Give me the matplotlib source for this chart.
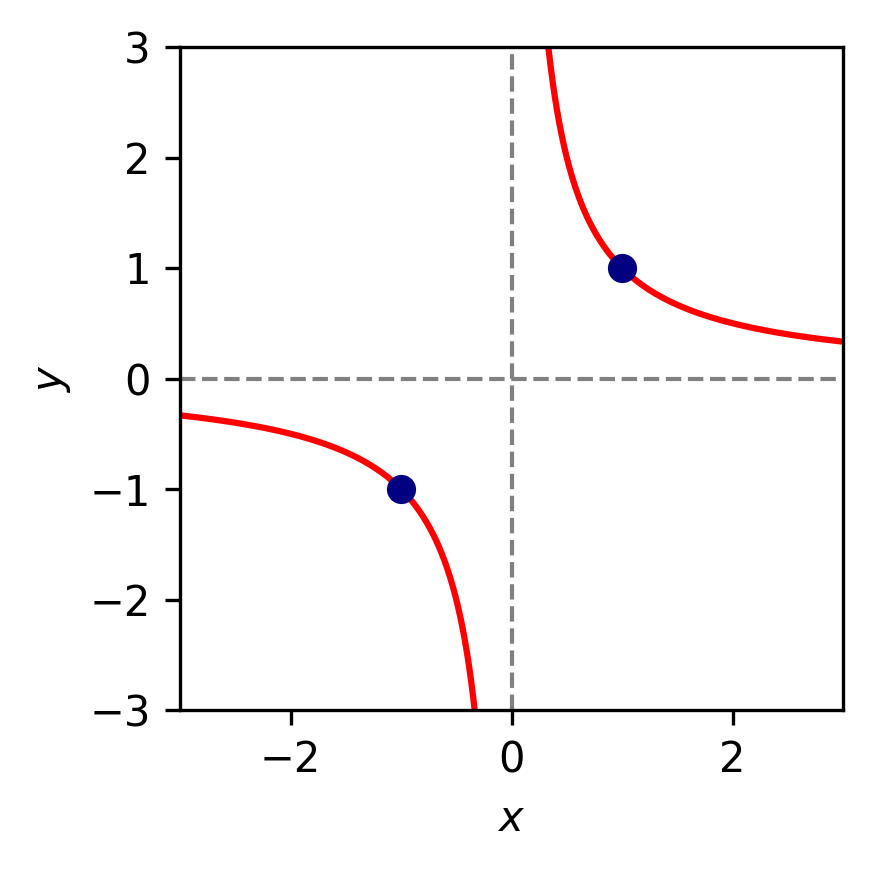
import numpy as np
import matplotlib
matplotlib.use("Agg")
import matplotlib.pyplot as plt

# y = 1/x, dos ramas
x_izq = np.linspace(-3, -1 / 3, 400)
x_der = np.linspace(1 / 3, 3, 400)
puntos_x = [1, -1]
puntos_y = [1, -1]

fig = plt.figure(figsize=(872 / 300, 870 / 300), dpi=300)
ax = fig.add_axes([180 / 872, 1 - 710 / 870, 663 / 872, 663 / 870])

ax.axhline(0, color="gray", linestyle="--", linewidth=1)
ax.axvline(0, color="gray", linestyle="--", linewidth=1)
ax.plot(x_izq, 1 / x_izq, color="red")
ax.plot(x_der, 1 / x_der, color="red")
ax.plot(puntos_x, puntos_y, "o", color="navy")

ax.set_xlim(-3, 3)
ax.set_ylim(-3, 3)
ax.set_xlabel("$x$")
ax.set_ylabel("$y$")

fig.savefig("out.png", dpi=300)
plt.close(fig)
